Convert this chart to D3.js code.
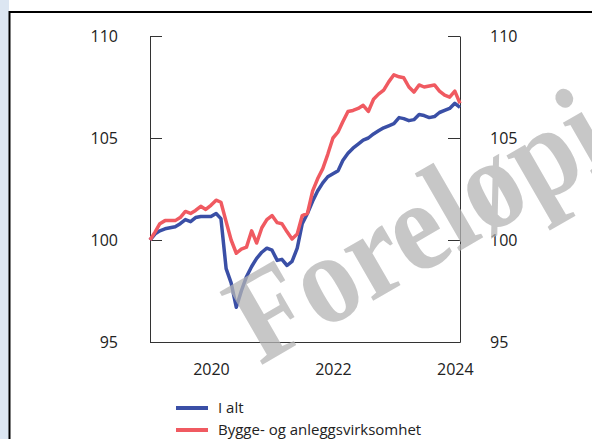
<!DOCTYPE html>
<html>
<head>
<meta charset="utf-8">
<script src="https://cdn.jsdelivr.net/npm/d3@7"></script>
<style>
  html, body { margin: 0; padding: 0; background: #fff; }
  svg { display: block; }
</style>
</head>
<body>
<div id="chart"></div>
<script>
// Monthly index, Jan 2019 = 100
const startMonth = new Date(2019, 0, 1);
const seriesNames = ['I alt', 'Bygge- og anleggsvirksomhet'];
const seriesColors = ['#3a4fa6', '#f05a61'];

const totalValues = [
  100.0, 100.3, 100.45, 100.55, 100.6, 100.65, 100.8, 101.0, 100.9, 101.1, 101.15, 101.15,
  101.15, 101.3, 101.05, 98.6, 97.9, 96.7, 97.5, 98.2, 98.7, 99.1, 99.4, 99.6,
  99.5, 99.0, 99.05, 98.75, 98.95, 99.6, 100.8, 101.3, 101.9, 102.4, 102.8, 103.1,
  103.25, 103.4, 103.9, 104.25, 104.5, 104.7, 104.9, 105.0, 105.2, 105.35, 105.5, 105.6,
  105.7, 106.0, 105.95, 105.85, 105.9, 106.15, 106.1, 106.0, 106.05, 106.25, 106.35, 106.45,
  106.7, 106.5
];
const constructionValues = [
  100.0, 100.4, 100.8, 100.95, 100.95, 100.95, 101.1, 101.4, 101.3, 101.45, 101.65, 101.5,
  101.7, 101.95, 101.85, 100.9, 100.0, 99.35, 99.55, 99.65, 100.45, 99.85, 100.6, 101.0,
  101.2, 100.85, 100.8, 100.4, 100.05, 100.3, 101.2, 101.3, 102.4, 103.0, 103.5, 104.2,
  105.0, 105.3, 105.8, 106.3, 106.35, 106.45, 106.6, 106.3, 106.9, 107.15, 107.35, 107.75,
  108.1, 108.0, 107.95, 107.5, 107.25, 107.6, 107.5, 107.55, 107.6, 107.3, 107.1, 107.0,
  107.3, 106.7
];
const yTicks = [95, 100, 105, 110];
const xTickYears = [2020, 2022, 2024];

const width = 592, height = 439;
const margin = { top: 36, right: 132, bottom: 97, left: 150 };

const svg = d3.select('#chart').append('svg')
  .attr('width', width)
  .attr('height', height);

// frame: light strip at the left, black rules
svg.append('rect').attr('x', 0).attr('y', 0).attr('width', 9).attr('height', height).attr('fill', '#dce6f2');
svg.append('line').attr('x1', 9.5).attr('x2', 9.5).attr('y1', 11).attr('y2', height)
  .attr('stroke', '#000').attr('stroke-width', 2);
svg.append('line').attr('x1', 9).attr('x2', width).attr('y1', 12).attr('y2', 12)
  .attr('stroke', '#000').attr('stroke-width', 2);

const months = totalValues.map((d, i) => d3.timeMonth.offset(startMonth, i));

const x = d3.scaleTime()
  .domain(d3.extent(months))
  .range([margin.left, width - margin.right]);

const y = d3.scaleLinear()
  .domain([95, 110])
  .range([height - margin.bottom, margin.top]);

const axisColor = '#333';
const tickFont = '"Open Sans", sans-serif';

function styleAxis(g) {
  g.selectAll('path, line').attr('stroke', axisColor);
  g.selectAll('text').attr('fill', '#222').attr('font-size', 16).attr('font-family', tickFont);
}

svg.append('g')
  .attr('transform', `translate(${margin.left},0)`)
  .call(d3.axisLeft(y).tickValues(yTicks).tickSize(-12).tickSizeOuter(0).tickPadding(32))
  .call(styleAxis);

svg.append('g')
  .attr('transform', `translate(${width - margin.right},0)`)
  .call(d3.axisRight(y).tickValues(yTicks).tickSize(-12).tickSizeOuter(0).tickPadding(30))
  .call(styleAxis);

svg.append('g')
  .attr('transform', `translate(0,${height - margin.bottom})`)
  .call(d3.axisBottom(x)
    .tickValues(xTickYears.map(yr => new Date(yr, 0, 1)))
    .tickFormat(d3.timeFormat('%Y'))
    .tickSize(0).tickSizeOuter(0).tickPadding(22))
  .call(styleAxis);

const line = d3.line()
  .x((d, i) => x(months[i]))
  .y(d => y(d));

[totalValues, constructionValues].forEach((vals, k) => {
  svg.append('path')
    .datum(vals)
    .attr('d', line)
    .attr('fill', 'none')
    .attr('stroke', seriesColors[k])
    .attr('stroke-width', 3.5)
    .attr('stroke-linejoin', 'round');
});

// legend
const legend = svg.append('g').attr('transform', 'translate(176,408)');
seriesNames.forEach((name, k) => {
  const row = legend.append('g').attr('transform', `translate(0,${k * 22})`);
  row.append('line').attr('x1', 0).attr('x2', 32).attr('y1', 0).attr('y2', 0)
    .attr('stroke', seriesColors[k]).attr('stroke-width', 4);
  row.append('text').attr('x', 42).attr('y', 0).attr('dy', '0.35em')
    .attr('font-family', tickFont).attr('font-size', 15).attr('fill', '#222')
    .text(name);
});

// watermark
svg.append('text')
  .attr('transform', 'translate(260,366) rotate(-30) scale(1,1.12)')
  .attr('font-family', '"Liberation Serif", "DejaVu Serif", serif')
  .attr('font-weight', 'bold')
  .attr('font-size', 115)
  .attr('fill', '#b4b4b4')
  .attr('fill-opacity', 0.75)
  .text('Foreløpig');
</script>
</body>
</html>
